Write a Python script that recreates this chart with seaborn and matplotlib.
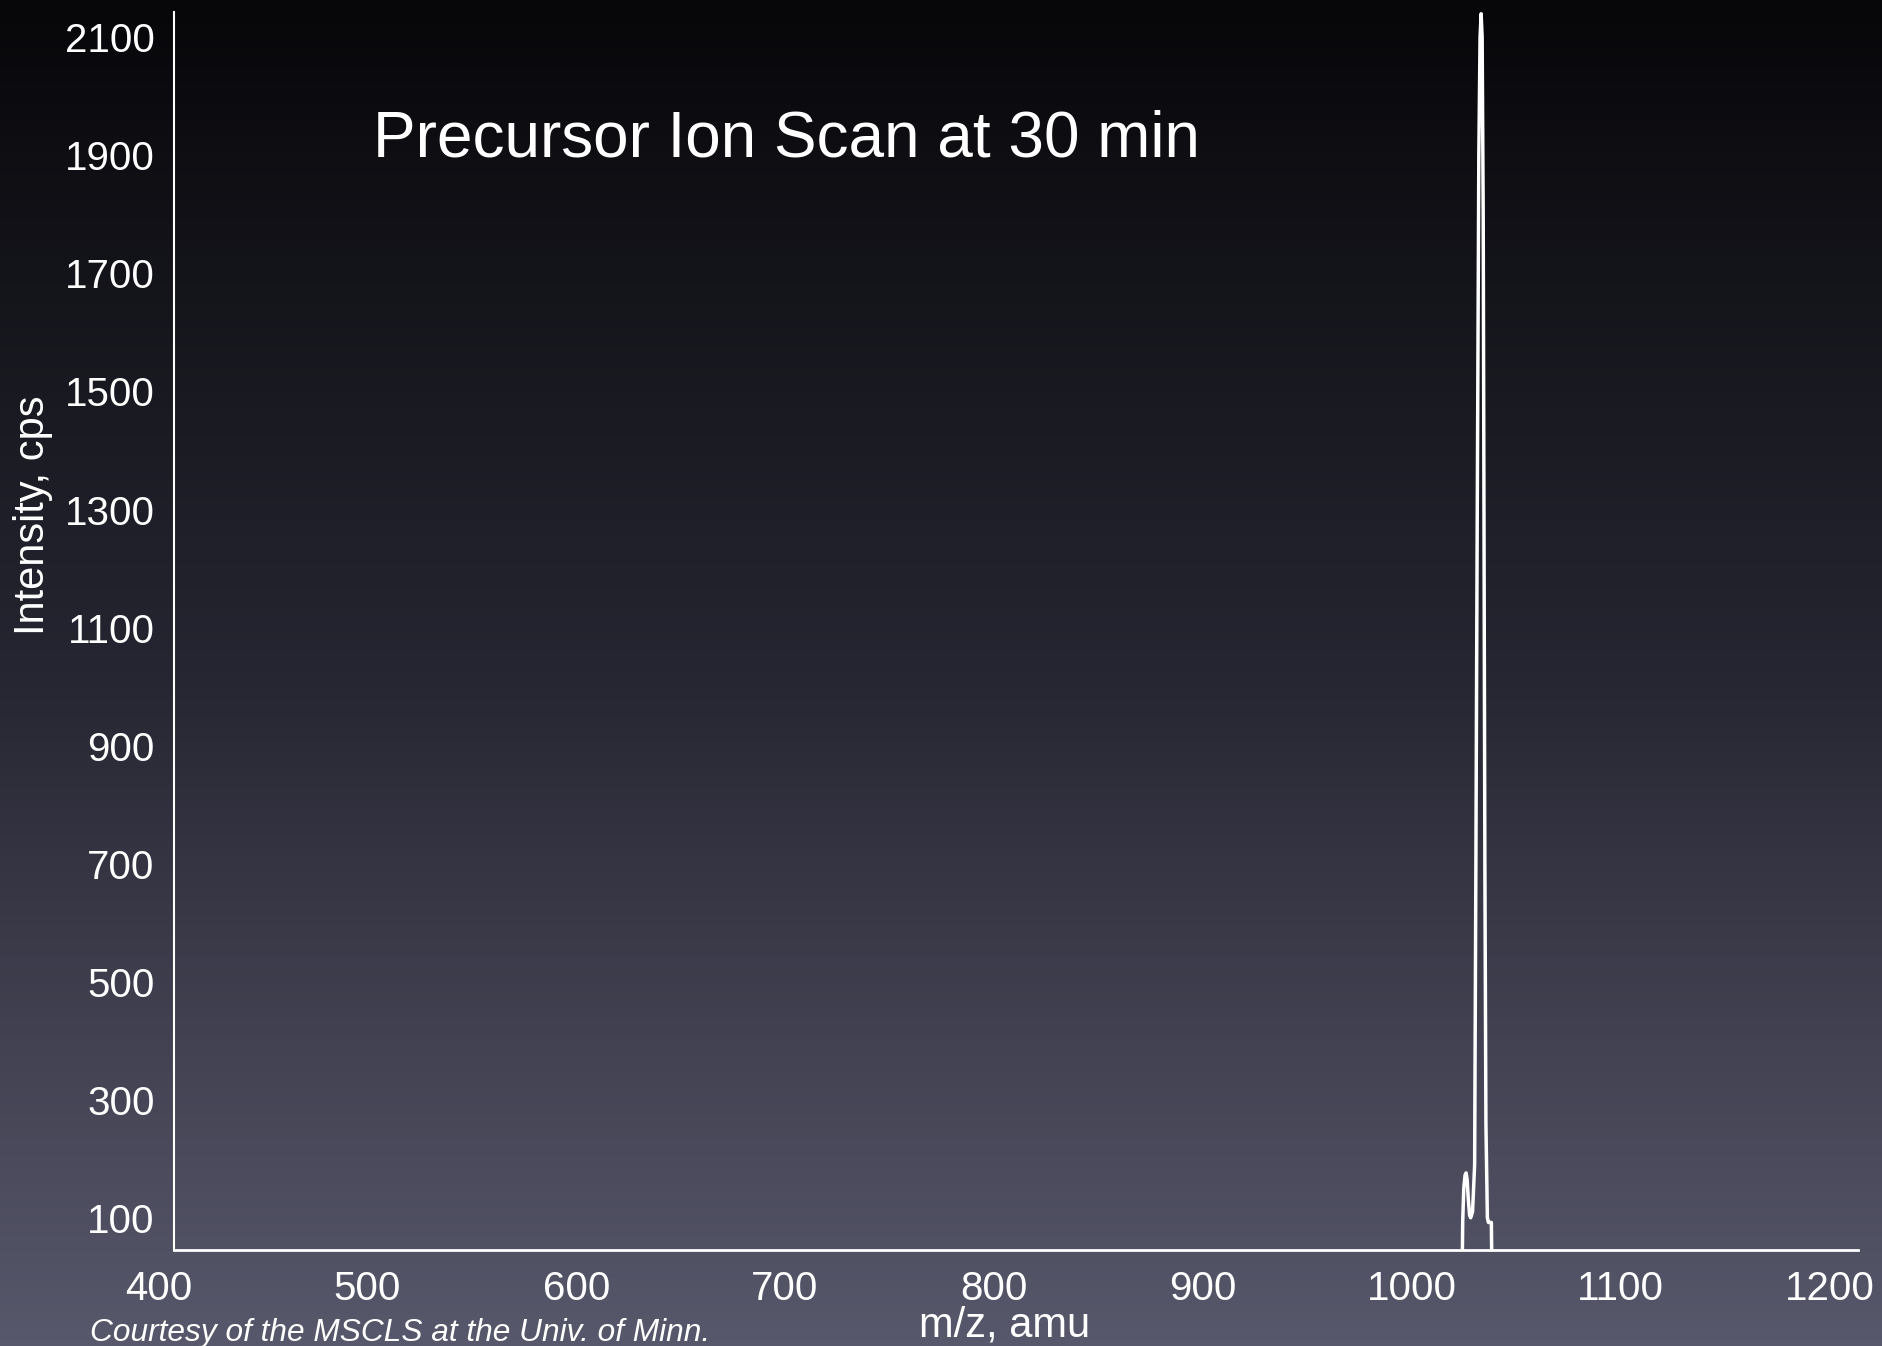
import numpy as np
import pandas as pd
import seaborn as sns
import matplotlib
matplotlib.use("Agg")
import matplotlib.pyplot as plt
import matplotlib.transforms as mtransforms
from matplotlib.colors import LinearSegmentedColormap

# spectre (m/z, intensité en cps)
mz = [400.0, 1016.7, 1017.0, 1017.5, 1018.1, 1018.6, 1019.1, 1019.7, 1020.3, 1020.8,
      1021.7, 1022.7, 1023.3, 1023.9, 1024.7, 1025.3, 1025.8, 1026.3, 1026.8, 1027.2,
      1027.6, 1028.1, 1028.8, 1029.3, 1029.8, 1030.7, 1031.0, 1206.0]
intensite = [0, 0, 95, 150, 172, 176, 165, 130, 104, 100,
             110, 190, 700, 1250, 1900, 2100, 2140, 2100, 1800, 1250,
             700, 260, 100, 92, 92, 92, 0, 0]

x_ticks = [400, 500, 600, 700, 800, 900, 1000, 1100, 1200]
y_ticks = [100, 300, 500, 700, 900, 1100, 1300, 1500, 1700, 1900, 2100]

titre = "Precursor Ion Scan at 30 min"
label_x = "m/z, amu"
label_y = "Intensity, cps"
source = "Courtesy of the MSCLS at the Univ. of Minn."

sns.set_theme(style="dark")
plt.rcParams['font.family'] = ['Liberation Sans', 'DejaVu Sans']

fig = plt.figure(figsize=(18.82, 13.46), dpi=100)

# fond en dégradé noir -> gris violet
fond = fig.add_axes([0, 0, 1, 1], zorder=0)
degrade = LinearSegmentedColormap.from_list("fond", ["#07070a", "#262632", "#58586c"])
fond.imshow(np.linspace(0, 1, 256).reshape(-1, 1), aspect='auto', cmap=degrade,
            extent=[0, 1, 0, 1])
fond.axis('off')

ax = fig.add_axes([0.0925, 0.0710, 0.8948, 0.9201], zorder=1)
ax.patch.set_alpha(0)

df = pd.DataFrame({'mz': mz, 'intensite': intensite})
sns.lineplot(data=df, x='mz', y='intensite', ax=ax, color='white', lw=2.5,
             estimator=None, sort=False)

ax.set_xticks(x_ticks)
ax.set_yticks(y_ticks)
ax.set_xlim(400, 1206.3)
ax.set_ylim(44.6, 2143)
ax.tick_params(axis='x', length=0, pad=14, labelsize=29, labelcolor='white')
ax.tick_params(axis='y', length=0, pad=14, labelsize=29, labelcolor='white')
ax.set_xlabel("")
ax.set_ylabel("")
ax.grid(False)

# les étiquettes de l'axe x sont décalées un peu vers la gauche sur l'original
decalage = mtransforms.ScaledTranslation(-0.156, 0, fig.dpi_scale_trans)
for lbl in ax.get_xticklabels():
    lbl.set_transform(lbl.get_transform() + decalage)

sns.despine(ax=ax)
ax.spines['left'].set_color('white')
ax.spines['left'].set_linewidth(1.5)
ax.spines['bottom'].set_color('white')
ax.spines['bottom'].set_linewidth(2)

fig.text(0.1982, 0.8834, titre, color='white', fontsize=46, va='baseline', ha='left')
fig.text(0.534, 0.0067, label_x, color='white', fontsize=30, va='baseline', ha='center')
fig.text(0.0175, 0.617, label_y, color='white', fontsize=30, rotation=90,
         va='center', ha='center')
fig.text(0.0478, 0.0037, source, color='white', fontsize=22.8, style='italic',
         va='baseline', ha='left')

fig.savefig("out.png", dpi=100)
